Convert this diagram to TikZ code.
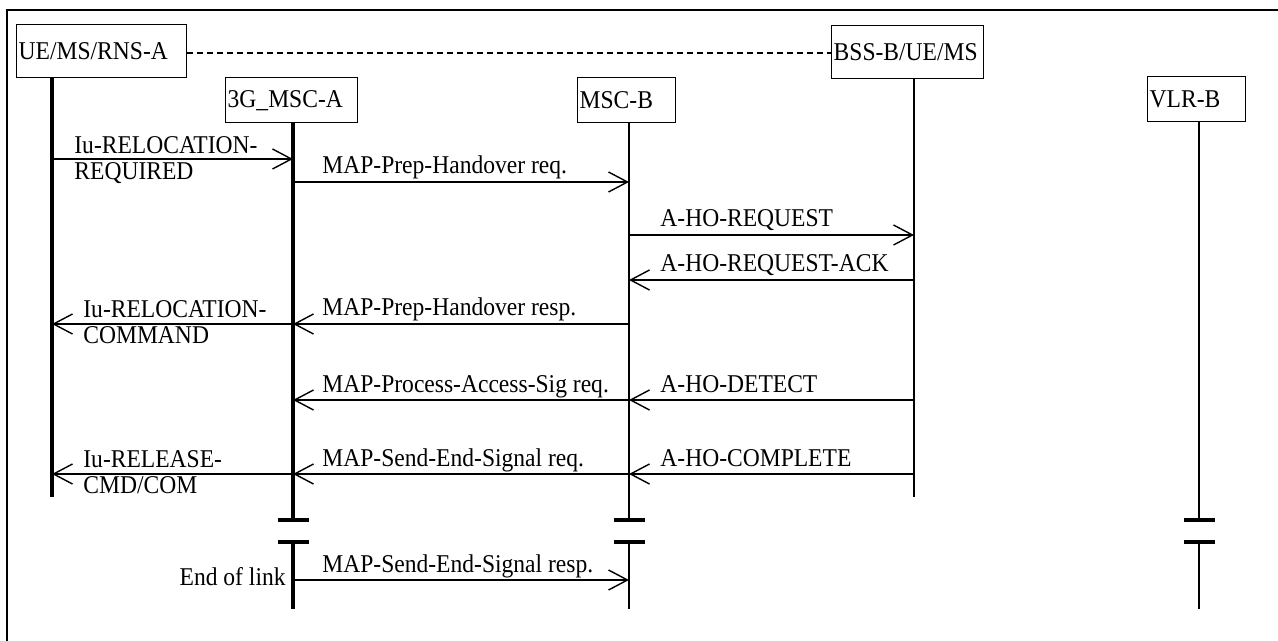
\documentclass[tikz,border=0pt]{standalone}
\usepackage{fontspec}
\setmainfont{Liberation Serif}[FakeStretch=0.92]
\usetikzlibrary{arrows.meta}
\newcommand{\twoline}[2]{\vtop{\baselineskip=13pt\hbox{#1}\hbox{#2}}}
\begin{document}
\begin{tikzpicture}[x=0.5pt,y=-0.5pt,
  every node/.style={font=\fontsize{12.8pt}{13pt}\selectfont},
  entity/.style={draw,line width=0.7pt,anchor=north west,inner xsep=1pt,inner ysep=0pt,align=left},
  lifethick/.style={line width=2pt},
  lifethin/.style={line width=1.4pt},
  gapbar/.style={line width=2pt},
  msg/.style={line width=0.7pt,-{Straight Barb[length=9.5pt,width=10pt,line width=0.7pt]}},
  lbl/.style={anchor=base west,inner sep=0pt}]
\useasboundingbox (0,0) rectangle (1278,641);
\draw[line width=1pt] (7,641) -- (7,10) -- (1278,10);
% entities
\node[entity,text width=83pt,minimum height=26.5pt] (ue) at (16,24) {UE/MS/RNS-A};
\node[entity,text width=64pt,minimum height=22.5pt] (msca) at (225,77) {3G\_MSC-A};
\node[entity,text width=47pt,minimum height=22.5pt] (mscb) at (577,77) {MSC-B};
\node[entity,text width=74pt,minimum height=26.5pt] (bss) at (831,25) {BSS-B/UE/MS};
\node[entity,text width=47pt,minimum height=22.5pt] (vlr) at (1147,76) {VLR-B};
\draw[dashed,dash pattern=on 3pt off 2pt,line width=0.75pt] (ue.east |- 0,53) -- (bss.west |- 0,53);
% lifelines
\coordinate (ueL) at (52,0);
\coordinate (mscaL) at (293,0);
\coordinate (mscbL) at (629,0);
\coordinate (bssL) at (914,0);
\coordinate (vlrL) at (1199,0);
\draw[lifethick] (ue.south -| ueL) -- (ueL |- 0,497);
\draw[lifethin] (bss.south -| bssL) -- (bssL |- 0,497);
\foreach \n/\w in {msca/lifethick,mscb/lifethin,vlr/lifethin} {
  \draw[\w] (\n.south -| \n L) -- (\n L |- 0,520);
  \draw[gapbar] ([xshift=-7.75pt]\n L |- 0,520) -- ([xshift=7.75pt]\n L |- 0,520);
  \draw[gapbar] ([xshift=-7.75pt]\n L |- 0,542) -- ([xshift=7.75pt]\n L |- 0,542);
  \draw[\w] (\n L |- 0,542) -- (\n L |- 0,609);
}
% messages
\foreach \a/\b/\y in {ueL/mscaL/159,mscaL/mscbL/182,mscbL/bssL/235,bssL/mscbL/280,
  mscbL/mscaL/324,mscaL/ueL/324,mscbL/mscaL/400,bssL/mscbL/400,
  mscbL/mscaL/474,bssL/mscbL/474,mscaL/mscbL/580}
  \draw[msg] (\a |- 0,\y) -- (\b |- 0,\y);
\draw[msg,{Straight Barb[length=9.5pt,width=10pt,line width=0.7pt]}-] (ueL |- 0,474) -- (mscaL |- 0,474);
% labels
\node[lbl] (l1) at (74,154) {\twoline{Iu-RELOCATION-}{REQUIRED}};
\node[lbl] (l2) at (322,174) {MAP-Prep-Handover req.};
\node[lbl] (l3) at (660,227) {A-HO-REQUEST};
\node[lbl] (l4) at (660,272) {A-HO-REQUEST-ACK};
\node[lbl] (l5) at (322,316) {MAP-Prep-Handover resp.};
\node[lbl] (l6) at (83,318) {\twoline{Iu-RELOCATION-}{COMMAND}};
\node[lbl] (l7) at (322,392) {MAP-Process-Access-Sig req.};
\node[lbl] (l8) at (660,392) {A-HO-DETECT};
\node[lbl] (l9) at (83,467) {\twoline{Iu-RELEASE-}{CMD/COM}};
\node[lbl] (l10) at (322,466) {MAP-Send-End-Signal req.};
\node[lbl] (l11) at (660,466) {A-HO-COMPLETE};
\node[lbl] (l12) at (322,572) {MAP-Send-End-Signal resp.};
\node[lbl,anchor=base east] (l13) at (286,585) {End of link};
\end{tikzpicture}
\end{document}
